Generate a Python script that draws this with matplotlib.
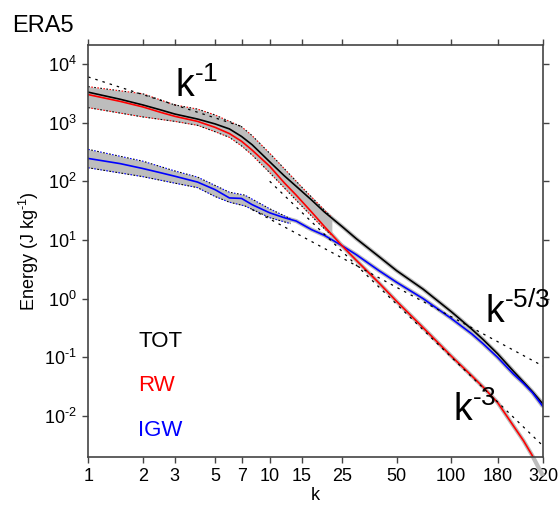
import numpy as np
import matplotlib
matplotlib.use("Agg")
import matplotlib.pyplot as plt
from matplotlib.ticker import FixedLocator, FuncFormatter, NullLocator

plt.rcParams['font.family'] = ['Liberation Sans', 'DejaVu Sans']
plt.rcParams['mathtext.fontset'] = 'custom'
plt.rcParams['mathtext.rm'] = 'Liberation Sans'

# wavenumbers where the spectra were read
k = [1, 1.5, 2, 2.5, 3, 4, 5, 6, 7, 8, 10, 12, 14, 17, 20, 25, 30, 40, 50,
     70, 100, 130, 150, 180, 220, 250, 280, 320]

tot = [3300, 2500, 2000, 1650, 1400, 1150, 950, 780, 580, 420, 215, 125, 82, 48,
       30, 17, 10.5, 5.2, 3.0, 1.45, 0.6, 0.3, 0.2, 0.115, 0.058, 0.038, 0.026, 0.016]
rw = [3000, 2300, 1850, 1500, 1280, 1050, 830, 650, 480, 340, 180, 95, 58, 30,
      17, 8.0, 4.5, 1.85, 0.9, 0.32, 0.105, 0.048, 0.031, 0.017, 0.0068, 0.0038, 0.0021, 0.00095]
igw = [245, 200, 165, 140, 122, 97, 72, 52, 51, 40, 29, 24, 21, 15,
       12, 8.0, 5.6, 3.0, 1.9, 1.0, 0.46, 0.25, 0.17, 0.1, 0.052, 0.036, 0.025, 0.0145]

# spread of the ensemble (grey band)
k_band1 = [1, 2, 3, 4, 5, 6, 7, 8, 10, 15, 19, 22]
band1_lo = [1800, 1250, 1050, 900, 700, 560, 400, 280, 140, 38, 18, 12]
band1_hi = [4100, 3100, 2000, 1700, 1350, 1050, 850, 600, 300, 80, 38, 24]
k_band2 = [1, 2, 3, 4, 5, 6, 7.3, 10, 13]
band2_lo = [170, 120, 93, 78, 55, 44, 38, 24, 19]
band2_hi = [350, 220, 150, 118, 85, 65, 58, 34, 23]

# power-law reference lines (end points)
ref_m1_k, ref_m1_e = [1, 7], [6000, 860]
ref_m53_k, ref_m53_e = [8, 320], [33, 0.071]
ref_m3_k, ref_m3_e = [10, 320], [100, 0.0031]

xticks = [1, 2, 3, 5, 7, 10, 15, 25, 50, 100, 180, 320]
yticks = [1e-2, 1e-1, 1e0, 1e1, 1e2, 1e3, 1e4]

fig = plt.figure(figsize=(5.58, 5.15), dpi=100)
ax = fig.add_axes([0.158, 0.1126, 0.815, 0.8])

grey = '#bdbdbd'
ax.fill_between(k_band1, band1_lo, band1_hi, color=grey, lw=0)
ax.fill_between(k_band2, band2_lo, band2_hi, color=grey, lw=0)

# thin grey halo around the mean curves
ax.plot(k, tot, color=grey, lw=3, solid_capstyle='butt')
ax.plot(k, igw, color=grey, lw=3, solid_capstyle='butt')
ax.plot(k, rw, color=grey, lw=3, solid_capstyle='butt', clip_on=False)

# ensemble members near band edges
dash = (0, (1.5, 4))
dash2 = (2.7, (1.5, 4))
for arr in (band1_lo, band1_hi):
    ax.plot(k_band1, arr, color='k', lw=0.8, linestyle=dash)
    ax.plot(k_band1, arr, color='red', lw=0.8, linestyle=dash2)
for arr in (band2_lo, band2_hi):
    ax.plot(k_band2, arr, color='blue', lw=0.8, linestyle=dash)
    ax.plot(k_band2, arr, color='k', lw=0.8, linestyle=dash2)

ax.plot(k, tot, color='k', lw=1.2)
ax.plot(k, igw, color='blue', lw=1.2)
ax.plot(k, rw, color='red', lw=1.2)

for rk, re in ((ref_m1_k, ref_m1_e), (ref_m53_k, ref_m53_e), (ref_m3_k, ref_m3_e)):
    ax.plot(rk, re, color='k', lw=0.9, linestyle=(0, (2, 4)))

ax.set_xscale('log')
ax.set_yscale('log')
ax.set_xlim(1, 320)
ax.set_ylim(2e-3, 2.1e4)

ax.xaxis.set_major_locator(FixedLocator(xticks))
ax.xaxis.set_minor_locator(NullLocator())
ax.xaxis.set_major_formatter(FuncFormatter(lambda v, p: '%g' % v))
ax.yaxis.set_major_locator(FixedLocator(yticks))
ax.yaxis.set_minor_locator(NullLocator())


def sup_label(v, p):
    e = int(round(np.log10(v)))
    s = str(e).replace('-', r'\text{-}')
    return r'$\mathregular{10^{%s}}$' % s


ax.yaxis.set_major_formatter(FuncFormatter(sup_label))

ax.tick_params(which='both', direction='out', length=4, width=1, color='#444444',
               top=True, right=True, labelsize=13, pad=4)
for s in ax.spines.values():
    s.set_color('#444444')
    s.set_linewidth(1.2)

ax.set_xlabel('k', fontsize=13, labelpad=1)
ax.set_ylabel(r'Energy (J kg$^{\text{-}1}$)', fontsize=13, labelpad=2)

ax.text(3.0, 2700, r'k$^{\text{-}1}$', fontsize=27, va='baseline')
ax.text(153, 0.39, r'k$^{\text{-}5/3}$', fontsize=27, va='baseline')
ax.text(102, 0.0081, r'k$^{\text{-}3}$', fontsize=27, va='baseline')

ax.text(1.885, 0.148, 'TOT', color='k', fontsize=16, va='baseline')
ax.text(1.885, 0.0264, 'RW', color='red', fontsize=16, va='baseline')
ax.text(1.885, 0.0046, 'IGW', color='blue', fontsize=16, va='baseline')

fig.text(0.0215, 0.938, 'ERA5', fontsize=17, va='baseline')

fig.savefig('out.png', dpi=100)
